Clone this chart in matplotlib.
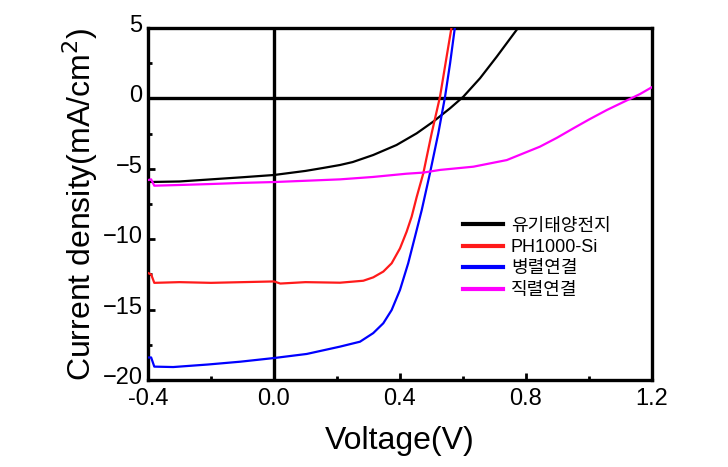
import matplotlib
matplotlib.use("Agg")
import matplotlib.pyplot as plt
from matplotlib.ticker import MultipleLocator
from matplotlib.transforms import ScaledTranslation

# ---- data ----
v_organic = [-0.4, -0.3, -0.2, -0.1, 0.0, 0.1, 0.156, 0.2095, 0.25, 0.315, 0.389, 0.453,
             0.5055, 0.559, 0.601, 0.654, 0.707, 0.77]
j_organic = [-5.94, -5.9, -5.75, -5.6, -5.44, -5.15, -4.94, -4.73, -4.52, -4.02, -3.31, -2.48,
             -1.65, -0.7, 0.12, 1.43, 2.96, 4.86]

v_ph1000 = [-0.4, -0.39, -0.38, -0.3, -0.2, -0.1, 0.0, 0.02, 0.1, 0.2095, 0.2835, 0.315, 0.347,
            0.3735, 0.4, 0.421, 0.437, 0.453, 0.474, 0.5005, 0.527, 0.548, 0.564]
j_ph1000 = [-12.4, -12.5, -13.1, -13.05, -13.1, -13.05, -13.0, -13.15, -13.05, -13.09, -12.95,
            -12.71, -12.3, -11.71, -10.65, -9.47, -8.4, -7.0, -5.32, -2.48, 0.12, 2.96, 5.1]

v_parallel = [-0.4, -0.39, -0.38, -0.32, -0.21, -0.107, 0.0, 0.104, 0.2095, 0.273, 0.315, 0.347,
              0.3735, 0.4, 0.426, 0.4476, 0.469, 0.495, 0.5216, 0.543, 0.559, 0.5746]
j_parallel = [-18.4, -18.4, -19.05, -19.08, -18.9, -18.7, -18.44, -18.15, -17.63, -17.28, -16.67,
              -15.97, -15.03, -13.6, -11.71, -9.82, -7.93, -5.32, -2.48, 0.12, 2.49, 5.1]

v_series = [-0.4, -0.39, -0.38, -0.3, -0.2, -0.1, 0.0, 0.1, 0.2095, 0.314, 0.42, 0.474, 0.527,
            0.633, 0.739, 0.844, 0.898, 0.95, 1.0, 1.057, 1.11, 1.162, 1.2]
j_series = [-5.8, -5.75, -6.2, -6.15, -6.08, -6.0, -5.94, -5.85, -5.75, -5.58, -5.35, -5.27, -5.08,
            -4.85, -4.38, -3.43, -2.8, -2.13, -1.5, -0.82, -0.25, 0.31, 0.8]

labels = ["유기태양전지", "PH1000-Si", "병렬연결", "직렬연결"]
colors = ["black", "#ff1a1a", "#0000ff", "#ff00ff"]

x_ticks = [-0.4, 0.0, 0.4, 0.8, 1.2]
x_ticklabels = ["-0.4", "0.0", "0.4", "0.8", "1.2"]
y_ticks = [5, 0, -5, -10, -15, -20]

plt.rcParams['font.family'] = ['Liberation Sans', 'Noto Sans CJK KR', 'DejaVu Sans']

fig = plt.figure(figsize=(7.28, 4.67), dpi=100)
ax = fig.add_axes([148/728, 1 - 380/467, 504/728, 352/467])

ax.axhline(0, color='black', lw=2.4, zorder=1)
ax.axvline(0, color='black', lw=2.4, zorder=1)

series = [(v_organic, j_organic), (v_ph1000, j_ph1000), (v_parallel, j_parallel), (v_series, j_series)]
for (v, j), lab, c in zip(series, labels, colors):
    ax.plot(v, j, color=c, lw=1.6, label=lab, zorder=3)

ax.set_xlim(-0.4, 1.2)
ax.set_ylim(-20, 5)
ax.set_xticks(x_ticks)
ax.set_xticklabels(x_ticklabels)
ax.set_yticks(y_ticks)
ax.xaxis.set_minor_locator(MultipleLocator(0.2))
ax.yaxis.set_minor_locator(MultipleLocator(2.5))
ax.tick_params(which='both', direction='in', top=False, right=False, labelsize=17, width=2.0)
ax.tick_params(axis='x', which='major', length=5, pad=6)
ax.tick_params(axis='y', which='major', length=5, pad=4)
ax.tick_params(which='minor', length=3)
for s in ax.spines.values():
    s.set_linewidth(2.4)

# y tick labels sit slightly above their ticks in the reference
offset = ScaledTranslation(0, 0.045, fig.dpi_scale_trans)
for lbl in ax.get_yticklabels():
    lbl.set_transform(lbl.get_transform() + offset)

ax.set_xlabel("Voltage(V)", fontsize=23, labelpad=11)
ax.set_ylabel("Current density(mA/cm$^2$)", fontsize=23, labelpad=2)

leg = ax.legend(loc='upper left', bbox_to_anchor=(0.625, 0.462), frameon=False,
                fontsize=13, handlelength=2.2, handletextpad=0.45, labelspacing=0.25,
                borderaxespad=0, borderpad=0)
for line in leg.get_lines():
    line.set_linewidth(3)
for t in leg.get_texts():
    t.set_family(['Liberation Sans', 'Noto Sans CJK KR'])

fig.savefig("out.png", dpi=100)
